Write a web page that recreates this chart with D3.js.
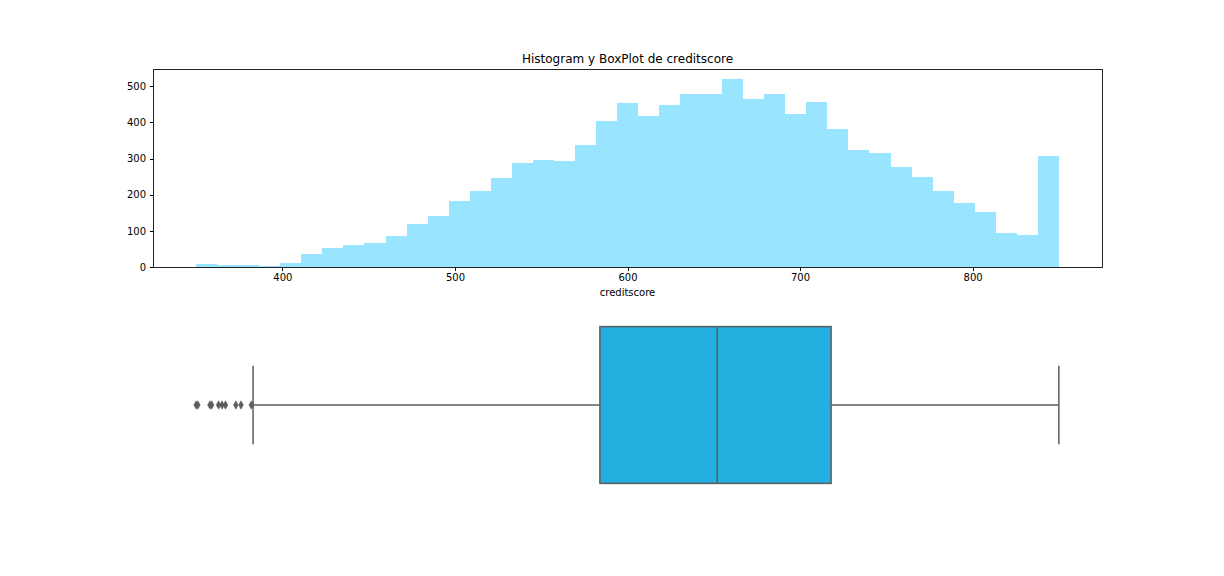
<!DOCTYPE html>
<html><head><meta charset="utf-8">
<script src="https://cdn.jsdelivr.net/npm/d3@7"></script>
<style>body{margin:0;background:#fff;} svg{display:block;} text{font-family:"DejaVu Sans",sans-serif;fill:#000;}</style>
</head><body><svg id="c" width="1224" height="576"></svg>
<script>
// Data
const title = "Histogram y BoxPlot de creditscore";
const xLabel = "creditscore";
const binStart = 350, binEnd = 850;
const binCounts = [8,5,5,3,12,37,53,61,66,87,119,142,184,211,245,288,297,294,338,405,453,419,449,480,480,521,466,480,424,457,383,324,316,277,250,211,177,152,94,89,308];
const xTicks = [400,500,600,700,800];
const yTicks = [0,100,200,300,400,500];
const boxStats = {q1:584, median:652, q3:718, whiskerLow:383, whiskerHigh:850};
const outliers = [350,351,358,359,363,365,367,373,376,382];

const svg = d3.select("#c");
const L = 153, R = 1102;
const hTop = 69, hBot = 267;
const x = d3.scaleLinear().domain([325, 875]).range([L, R]);
const y = d3.scaleLinear().domain([0, 548]).range([hBot, hTop]);
const nb = binCounts.length, bw = (binEnd - binStart) / nb;
const bins = binCounts.map((c, i) => ({x0: binStart + i*bw, x1: binStart + (i+1)*bw, c}));

const g = svg.append("g");
g.selectAll("rect.bar").data(bins).join("rect")
  .attr("x", d => x(d.x0)).attr("width", d => x(d.x1) - x(d.x0))
  .attr("y", d => y(d.c)).attr("height", d => y(0) - y(d.c))
  .attr("fill", "#99e5ff").attr("shape-rendering", "crispEdges");

const xAxis = g.append("g").attr("transform", `translate(0,${hBot})`)
  .call(d3.axisBottom(x).tickValues(xTicks).tickSize(3.5).tickPadding(3.5));
const yAxis = g.append("g").attr("transform", `translate(${L},0)`)
  .call(d3.axisLeft(y).tickValues(yTicks).tickSize(3.5).tickPadding(3.5));
[xAxis, yAxis].forEach(a => {
  a.selectAll("text").style("font-size", "10px").attr("font-family", "DejaVu Sans").attr("fill", "#000");
  a.selectAll("line").attr("stroke", "#000").attr("stroke-width", 1).attr("shape-rendering", "crispEdges");
  a.select(".domain").remove();
});
g.append("rect").attr("x", L + 0.5).attr("y", hTop + 0.5).attr("width", R - L).attr("height", hBot - hTop)
  .attr("fill", "none").attr("stroke", "#222").attr("stroke-width", 1).attr("shape-rendering", "crispEdges");

svg.append("text").attr("x", (L + R) / 2).attr("y", 63).attr("text-anchor", "middle")
  .style("font-size", "12px").text(title);
svg.append("text").attr("x", (L + R) / 2).attr("y", 296).attr("text-anchor", "middle")
  .style("font-size", "10px").text(xLabel);

// Boxplot
const by = d3.scaleLinear().domain([-0.5, 0.5]).range([307, 503]);
const cy = by(0);
const edge = "#5d5d5d";
const b = svg.append("g");
b.append("line").attr("x1", x(boxStats.whiskerLow)).attr("x2", x(boxStats.q1)).attr("y1", cy).attr("y2", cy)
  .attr("stroke", edge).attr("stroke-width", 1.5);
b.append("line").attr("x1", x(boxStats.q3)).attr("x2", x(boxStats.whiskerHigh)).attr("y1", cy).attr("y2", cy)
  .attr("stroke", edge).attr("stroke-width", 1.5);
[boxStats.whiskerLow, boxStats.whiskerHigh].forEach(v => {
  b.append("line").attr("x1", x(v)).attr("x2", x(v)).attr("y1", by(-0.2)).attr("y2", by(0.2))
    .attr("stroke", edge).attr("stroke-width", 1.5);
});
b.append("rect").attr("x", x(boxStats.q1)).attr("width", x(boxStats.q3) - x(boxStats.q1))
  .attr("y", by(-0.4)).attr("height", by(0.4) - by(-0.4))
  .attr("fill", "#23afe0").attr("stroke", edge).attr("stroke-width", 1.5);
b.append("line").attr("x1", x(boxStats.median)).attr("x2", x(boxStats.median))
  .attr("y1", by(-0.4)).attr("y2", by(0.4)).attr("stroke", edge).attr("stroke-width", 1.5);
b.selectAll("path.out").data(outliers).join("path")
  .attr("d", "M0,-4.2L2.4,0L0,4.2L-2.4,0Z")
  .attr("transform", d => `translate(${x(d)},${cy})`)
  .attr("fill", edge).attr("stroke", edge).attr("stroke-width", 0.5);
</script></body></html>
